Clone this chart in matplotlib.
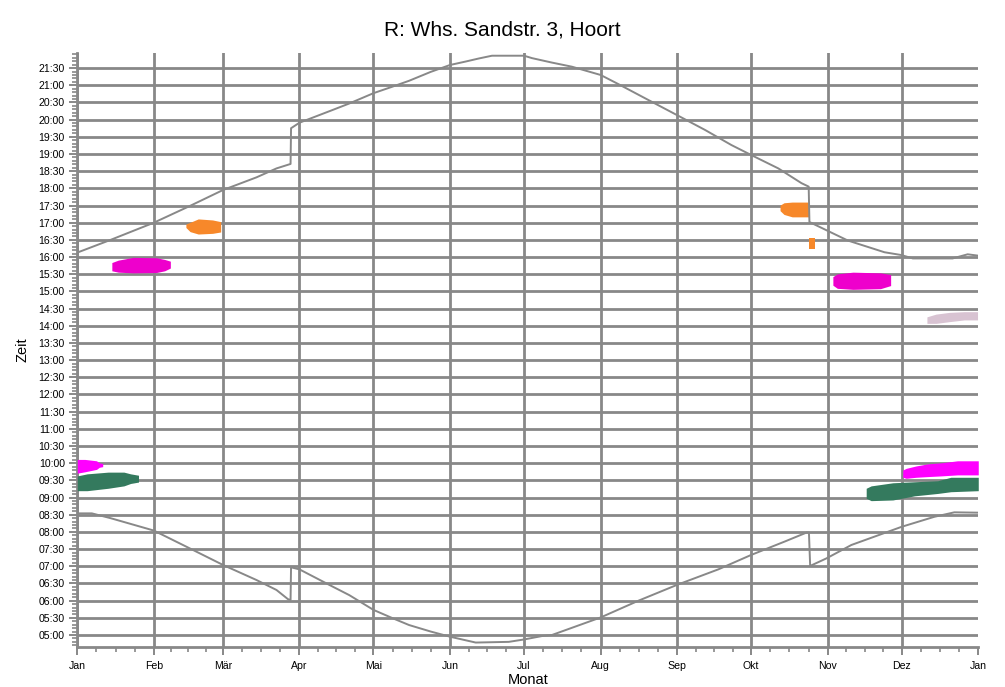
import matplotlib
matplotlib.use("Agg")
import matplotlib.pyplot as plt
from matplotlib.ticker import FixedLocator, MultipleLocator, FuncFormatter

plt.rcParams["font.family"] = ["Liberation Sans", "DejaVu Sans"]

# day of year (0 = 1. Jan) where each month starts
month_starts = [0, 31, 59, 90, 120, 151, 181, 212, 243, 273, 304, 334, 365]
month_labels = ["Jan", "Feb", "Mär", "Apr", "Mai", "Jun", "Jul",
                "Aug", "Sep", "Okt", "Nov", "Dez", "Jan"]

# sunset (hours)
sunset_days = [0, 13.5, 31, 45.7, 59, 72.6, 80.7, 86.4, 86.6, 90, 103.4, 110.2,
               120, 127.7, 134.4, 143.2, 151, 157.3, 162.7, 168, 181, 184.2,
               192.3, 200.4, 212, 219.3, 232.7, 243, 254.3, 265, 273, 284,
               293.4, 296.3, 296.6, 303.8, 312.2, 327.0, 333.7, 338.5, 354.6,
               360.7, 365]
sunset_times = [16.13, 16.50, 17.00, 17.49, 17.95, 18.32, 18.58, 18.71, 19.75,
                19.91, 20.28, 20.47, 20.77, 20.96, 21.13, 21.39, 21.59, 21.69,
                21.78, 21.86, 21.86, 21.79, 21.66, 21.54, 21.30, 21.03, 20.52,
                20.13, 19.70, 19.26, 18.97, 18.58, 18.15, 18.05, 17.02, 16.77,
                16.48, 16.14, 16.06, 15.96, 15.96, 16.08, 16.04]

# sunrise (hours)
sunrise_days = [0, 5.9, 13.5, 31, 47, 59, 72.6, 80.7, 85.4, 86.4, 86.6, 90,
                103.4, 110.2, 120, 127.7, 134.4, 143.2, 151, 161.4, 174.8, 181,
                188.3, 192.3, 212, 227.4, 243, 259.7, 273, 286.6, 295.4, 296.4,
                296.9, 303.5, 313.6, 334, 347.2, 355.3, 365]
sunrise_times = [8.54, 8.54, 8.40, 8.04, 7.47, 7.04, 6.60, 6.31, 6.04, 6.02,
                 6.97, 6.91, 6.41, 6.16, 5.73, 5.49, 5.29, 5.10, 4.95, 4.78,
                 4.80, 4.87, 4.97, 5.00, 5.51, 6.00, 6.46, 6.91, 7.33, 7.72,
                 7.98, 7.98, 7.01, 7.23, 7.62, 8.15, 8.44, 8.57, 8.56]

# shadow periods: (days, start time, end time, colour)
shadows = [
    ([0, 4.0, 12.5, 18.9, 21.6, 24.8],
     [9.20, 9.20, 9.27, 9.34, 9.41, 9.45],
     [9.63, 9.69, 9.74, 9.74, 9.69, 9.65], "#347a5e"),
    ([0, 3.1, 7.8, 8.9, 10.3],
     [9.71, 9.75, 9.82, 9.88, 9.90],
     [10.11, 10.11, 10.07, 10.01, 9.99], "#ff00ff"),
    ([14.0, 16.6, 22.6, 32.1, 35.4, 37.7],
     [15.60, 15.56, 15.54, 15.55, 15.60, 15.68],
     [15.84, 15.91, 15.99, 15.98, 15.93, 15.88], "#ee00cc"),
    ([44.0, 45.7, 49.0, 54.8, 58.1],
     [16.86, 16.74, 16.67, 16.69, 16.73],
     [16.96, 17.01, 17.11, 17.08, 17.03], "#f7882a"),
    ([284.7, 286.3, 289.6, 296.3],
     [17.35, 17.24, 17.17, 17.17],
     [17.51, 17.58, 17.60, 17.60], "#f7882a"),
    ([296.5, 298.7],
     [16.24, 16.24],
     [16.55, 16.55], "#f7882a"),
    ([306.1, 307.9, 314.2, 325.4, 329.5],
     [15.18, 15.09, 15.06, 15.08, 15.17],
     [15.43, 15.51, 15.56, 15.54, 15.49], "#ee00cc"),
    ([344.2, 347.9, 353.3, 359.3, 364.7],
     [14.07, 14.07, 14.12, 14.17, 14.17],
     [14.26, 14.34, 14.39, 14.41, 14.41], "#d8c3d2"),
    ([319.6, 321.6, 330.4, 339.2, 348.6, 353.9, 365],
     [8.98, 8.91, 8.93, 9.05, 9.12, 9.17, 9.20],
     [9.27, 9.34, 9.43, 9.46, 9.49, 9.59, 9.59], "#347a5e"),
    ([334.4, 335.8, 339.8, 344.5, 349.9, 356.6, 365],
     [9.59, 9.56, 9.59, 9.61, 9.63, 9.66, 9.66],
     [9.80, 9.85, 9.92, 9.98, 10.01, 10.07, 10.07], "#ff00ff"),
]

grey = "#888888"

fig = plt.figure(figsize=(10.05, 6.87), dpi=100)
ax = fig.add_axes([0.0769, 0.0582, 0.8965, 0.8647])

for days, lo, hi, col in shadows:
    ax.fill_between(days, lo, hi, color=col, linewidth=0, zorder=3)

ax.plot(sunset_days, sunset_times, color=grey, lw=1.4, zorder=4)
ax.plot(sunrise_days, sunrise_times, color=grey, lw=1.4, zorder=4)

ax.set_xlim(0, 365)
ax.set_ylim(4.65, 21.94)

ax.xaxis.set_major_locator(FixedLocator(month_starts))
ax.set_xticklabels(month_labels)
minor_x = []
for a, b in zip(month_starts[:-1], month_starts[1:]):
    minor_x += [a + (b - a) * k / 4 for k in (1, 2, 3)]
ax.xaxis.set_minor_locator(FixedLocator(minor_x))

ax.yaxis.set_major_locator(FixedLocator([5 + 0.5 * i for i in range(34)]))
ax.yaxis.set_minor_locator(MultipleLocator(0.1))
ax.yaxis.set_major_formatter(FuncFormatter(
    lambda v, p: "%02d:%02d" % (int(v), round((v - int(v)) * 60))))

ax.grid(True, which="major", color=grey, lw=2, zorder=1)
ax.get_xgridlines()[-1].set_visible(False)
ax.set_axisbelow(True)

for s in ("top", "right"):
    ax.spines[s].set_visible(False)
for s in ("left", "bottom"):
    ax.spines[s].set_color(grey)
    ax.spines[s].set_linewidth(2)

ax.tick_params(which="major", length=6, width=1.4, color=grey, labelsize=7.6,
               pad=3)
ax.tick_params(which="minor", length=3.5, width=1.2, color=grey)
ax.tick_params(axis="x", pad=4)

ax.set_xlabel("Monat", fontsize=10.5)
ax.set_ylabel("Zeit", fontsize=10.5)
ax.xaxis.set_label_coords(0.5, -0.043)
ax.yaxis.set_label_coords(-0.053, 0.5)

fig.text(0.5, 0.956, "R: Whs. Sandstr. 3, Hoort", ha="center", va="center",
         fontsize=15)

fig.savefig("out.png", dpi=100)
